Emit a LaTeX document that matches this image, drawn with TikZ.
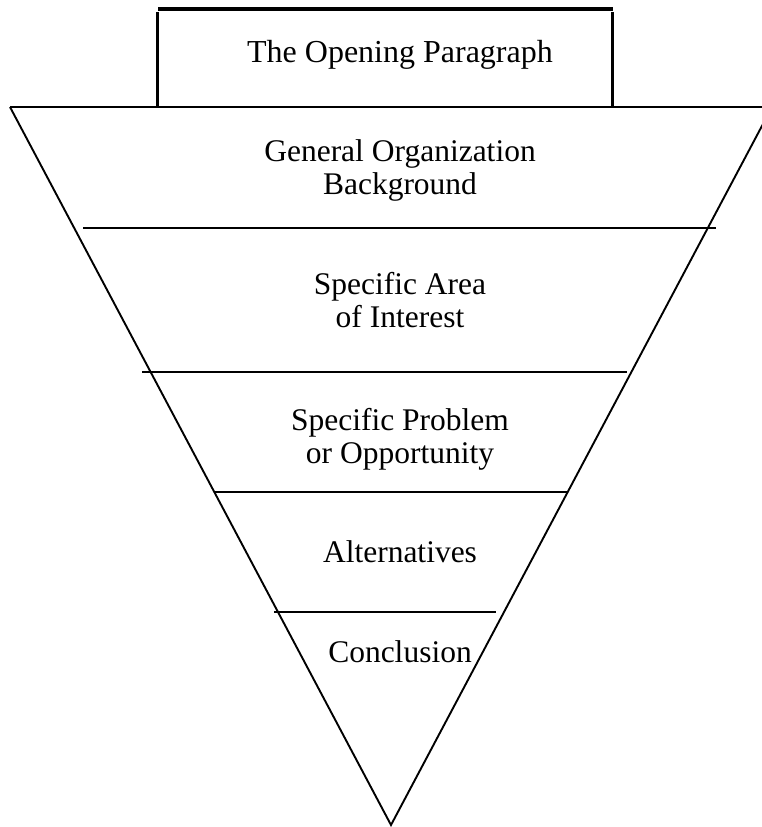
\documentclass[tikz,border=0pt]{standalone}
\usepackage{fontspec}
\setmainfont{Liberation Serif}
\begin{document}
\begin{tikzpicture}[x=1pt,y=-1pt,
  funnel/.style={line width=1.9pt,line cap=butt},
  boxline/.style={line width=3.6pt,line cap=butt},
  label/.style={anchor=base,inner sep=0pt,font=\fontsize{31.5}{33}\selectfont},
  toplabel/.style={anchor=base,inner sep=0pt,font=\fontsize{32}{34}\selectfont}]
  \useasboundingbox (0,0) rectangle (762,827);
  \clip (0,0) rectangle (762,827);

  % funnel corners
  \coordinate (tl) at (10,107);
  \coordinate (tr) at (772,107);
  \coordinate (apex) at (391,825);

  % opening paragraph box on top of the funnel
  \coordinate (bxtl) at (158,9);
  \coordinate (bxtr) at (613,9);
  \coordinate (bxl1) at (157.3,12);
  \coordinate (bxl2) at (157.3,107);
  \coordinate (bxr1) at (612.3,12);
  \coordinate (bxr2) at (612.3,107);
  \draw[boxline] (bxtl) -- (bxtr);
  \draw[boxline] (bxl1) -- (bxl2);
  \draw[boxline] (bxr1) -- (bxr2);

  % funnel outline
  \draw[funnel] (tl) -- (tr);
  \draw[funnel] (tl) -- (apex) -- (tr);

  % dividing lines between the stages
  \coordinate (a1) at (83,228);  \coordinate (b1) at (716,228);
  \coordinate (a2) at (142,372); \coordinate (b2) at (627,372);
  \coordinate (a3) at (215,492); \coordinate (b3) at (568,492);
  \coordinate (a4) at (274,612); \coordinate (b4) at (496,612);
  \draw[funnel] (a1) -- (b1);
  \draw[funnel] (a2) -- (b2);
  \draw[funnel] (a3) -- (b3);
  \draw[funnel] (a4) -- (b4);

  % stage labels
  \node[toplabel] (open) at (400,62) {The Opening Paragraph};
  \node[label] (gen1) at (400,161.5) {General Organization};
  \node[label] (gen2) at (400,194.5) {Background};
  \node[label] (area1) at (400,294) {Specific Area};
  \node[label] (area2) at (400,327) {of Interest};
  \node[label] (prob1) at (400,430) {Specific Problem};
  \node[label] (prob2) at (400,463) {or Opportunity};
  \node[label] (alt) at (400,562) {Alternatives};
  \node[label] (concl) at (400,662) {Conclusion};
\end{tikzpicture}
\end{document}
